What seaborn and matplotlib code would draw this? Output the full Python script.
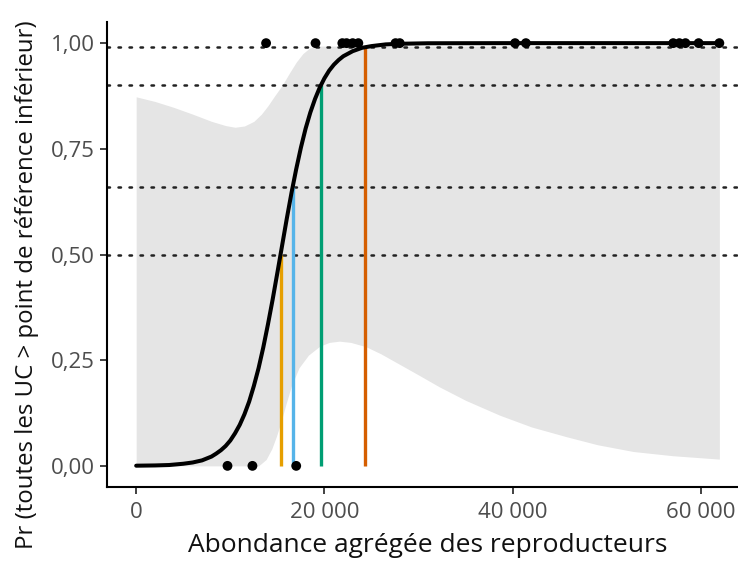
import matplotlib
matplotlib.use("Agg")
import matplotlib.pyplot as plt
from matplotlib.ticker import FuncFormatter
import pandas as pd
import seaborn as sns

# observed outcomes (1 = all CUs above lower reference point)
obs_x = [9700, 12350, 17000,
         13800, 19050, 21900, 22350, 23000, 23600, 27550, 28000,
         40250, 41400, 57050, 57700, 58350, 59750, 61950]
obs_y = [0, 0, 0,
         1, 1, 1, 1, 1, 1, 1, 1,
         1, 1, 1, 1, 1, 1, 1]

# fitted curve
fit_x = [0, 2000, 3500, 5000, 6000, 7000, 8000, 8500, 9000, 9500, 10000,
         10500, 11000, 11500, 12000, 12500, 13000, 13500, 14000, 14500,
         15000, 15500, 16000, 16500, 17000, 17500, 18000, 18500, 19000,
         19500, 20000, 20500, 21000, 21500, 22000, 23000, 24000, 25000,
         26500, 28000, 31000, 40000, 61950]
fit_p = [0.0004, 0.001, 0.002, 0.005, 0.008, 0.013, 0.022, 0.029, 0.037,
         0.047, 0.060, 0.077, 0.097, 0.122, 0.152, 0.189, 0.231, 0.280,
         0.335, 0.394, 0.457, 0.521, 0.585, 0.646, 0.702, 0.753, 0.798,
         0.836, 0.868, 0.895, 0.917, 0.935, 0.949, 0.960, 0.969, 0.981,
         0.989, 0.993, 0.997, 0.9985, 0.9997, 1.0, 1.0]

# confidence band edges
lo_x = [0, 13000, 13800, 14400, 14900, 15400, 15900, 16500, 17300, 18300,
        19500, 20500, 21600, 22800, 24400, 26000, 28000, 30000, 32200,
        35000, 38600, 42000, 45700, 49000, 52800, 57000, 61950]
lo_p = [0.0, 0.0, 0.015, 0.04, 0.07, 0.105, 0.145, 0.19, 0.232, 0.262,
        0.283, 0.292, 0.295, 0.292, 0.282, 0.265, 0.24, 0.215, 0.187,
        0.155, 0.12, 0.092, 0.069, 0.05, 0.034, 0.024, 0.016]
hi_x = [0, 2000, 4000, 6000, 8000, 9500, 10500, 11500, 12500, 13300, 14000,
        14700, 15500, 16300, 17000, 17700, 18400, 19200, 61950]
hi_p = [0.873, 0.862, 0.848, 0.832, 0.815, 0.805, 0.801, 0.804, 0.815,
        0.832, 0.852, 0.875, 0.90, 0.93, 0.955, 0.975, 0.988, 0.993, 0.993]

# probability thresholds and abundances where they are reached
thresholds = [0.50, 0.66, 0.90, 0.99]
threshold_x = [15335, 16610, 19600, 24300]
threshold_colors = ["#E69F00", "#56B4E9", "#009E73", "#D55E00"]

xticks = [0, 20000, 40000, 60000]
yticks = [0.0, 0.25, 0.5, 0.75, 1.0]

sns.set_theme(style="ticks")
plt.rcParams["font.family"] = ["Open Sans", "DejaVu Sans"]

fig = plt.figure(figsize=(7.38, 5.63), dpi=100)
ax = fig.add_axes([107 / 738, 1 - 487 / 563, 642 / 738, 465 / 563])

# band: merge both edges onto a common x grid
band_x = sorted(set(lo_x) | set(hi_x))
band = pd.DataFrame({"x": band_x})
band["lo"] = pd.Series(lo_p, index=lo_x).reindex(band_x).interpolate(method="index").values
band["hi"] = pd.Series(hi_p, index=hi_x).reindex(band_x).interpolate(method="index").values
ax.fill_between(band["x"], band["lo"], band["hi"], color="#E5E5E5", lw=0, zorder=1)

for t in thresholds:
    ax.axhline(t, color="#222222", lw=1.8, linestyle=(0, (1, 3.4)),
               dash_capstyle="round", zorder=2)

ax.vlines(threshold_x, 0, thresholds, colors=threshold_colors, lw=2.4, zorder=3)

fit_df = pd.DataFrame({"x": fit_x, "p": fit_p})
sns.lineplot(data=fit_df, x="x", y="p", color="black", lw=2.9, ax=ax, zorder=4)

obs_df = pd.DataFrame({"x": obs_x, "y": obs_y})
sns.scatterplot(data=obs_df, x="x", y="y", color="black", s=50,
                edgecolor="none", ax=ax, zorder=5)

ax.set_xlim(-3100, 65100)
ax.set_ylim(-0.05, 1.05)
ax.set_xticks(xticks)
ax.set_yticks(yticks)
ax.xaxis.set_major_formatter(FuncFormatter(lambda v, _: f"{v:,.0f}".replace(",", " ")))
ax.yaxis.set_major_formatter(FuncFormatter(lambda v, _: f"{v:.2f}".replace(".", ",")))

ax.tick_params(axis="both", labelsize=16, labelcolor="#4D4D4D", color="#333333",
               length=5, width=1.3)
ax.tick_params(axis="x", pad=6)
ax.tick_params(axis="y", pad=4)
for side in ["left", "bottom"]:
    ax.spines[side].set_linewidth(1.5)
    ax.spines[side].set_color("black")
sns.despine(ax=ax)

ax.set_xlabel("Abondance agrégée des reproducteurs", fontsize=19, color="#111111")
ax.set_ylabel("Pr (toutes les UC > point de référence inférieur)", fontsize=17.3,
              color="#111111")
ax.xaxis.set_label_coords(0.5, -(545 - 487) / 465)
ax.yaxis.set_label_coords((27 - 107) / 642, (487 - 285) / 465)
ax.xaxis.label.set_va("center")
ax.yaxis.label.set_va("center")

fig.savefig("out.png", dpi=100)
